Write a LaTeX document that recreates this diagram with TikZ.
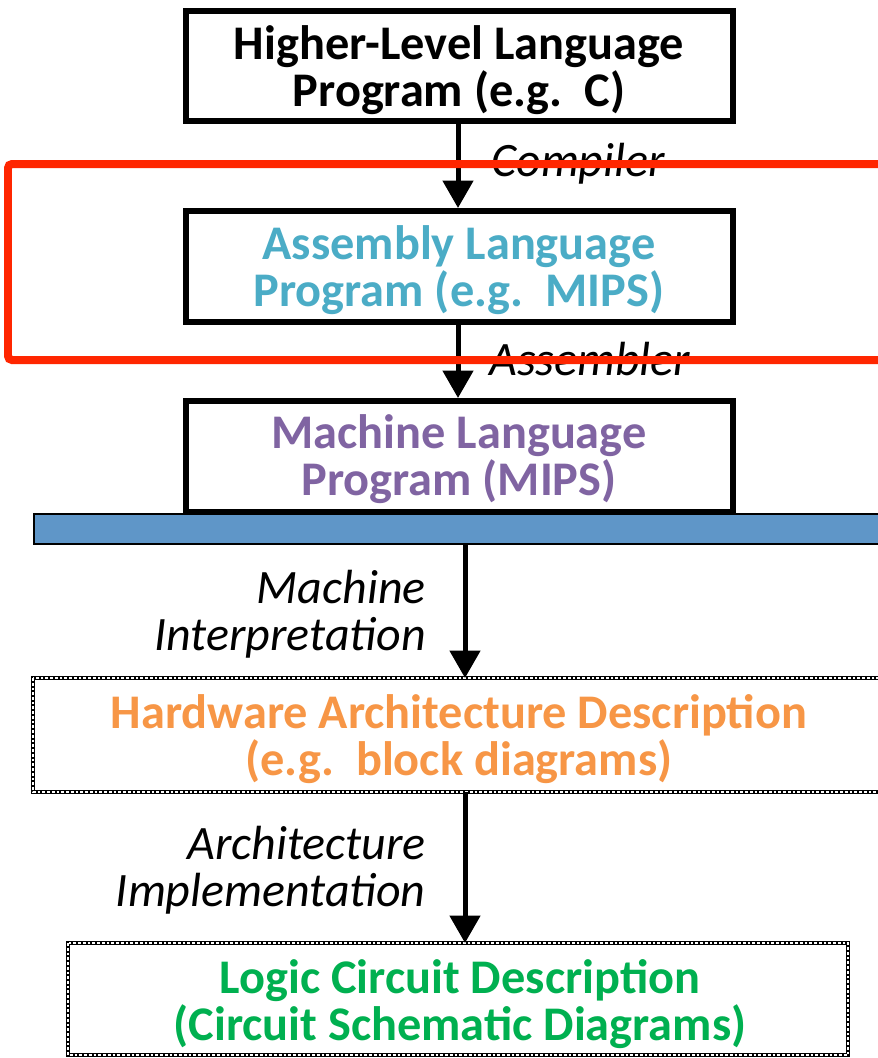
\documentclass[tikz,border=0pt]{standalone}
\usepackage{fontspec}
\setmainfont{Carlito}
\usetikzlibrary{arrows.meta}
\definecolor{asmcol}{RGB}{75,172,198}
\definecolor{maccol}{RGB}{128,100,162}
\definecolor{hwcol}{RGB}{247,150,70}
\definecolor{lgcol}{RGB}{0,176,80}
\definecolor{barcol}{RGB}{95,150,200}
\definecolor{redcol}{RGB}{255,38,0}
\tikzset{
  x=0.02cm, y=-0.02cm,
  solidbox/.style={draw=black, line width=0.12cm, fill=white, minimum width=10.94cm, minimum height=2.22cm, inner sep=0pt},
  chainline/.style={draw=black, line width=0.09cm},
  chainwhite/.style={draw=white, line width=0.035cm, dash pattern=on 0.055cm off 0.04cm},
  boxtext/.style={font=\fontsize{27.5pt}{26.8pt}\selectfont\bfseries, align=center, inner sep=0pt},
  lbl/.style={font=\fontsize{27.3pt}{26.8pt}\selectfont\itshape, inner sep=0pt},
  arr/.style={line width=0.1cm, -{Triangle[width=0.6cm,length=0.55cm]}},
}
\begin{document}
\begin{tikzpicture}
\useasboundingbox[fill=white] (0,0) rectangle (877,1058);
% solid boxes
\node[solidbox] (hl) at (459.5,66) {};
\node[boxtext] (hlt) at (459,70) {Higher-Level Language\\Program (e.g.\ \ C)};
\node[solidbox] (asm) at (459.5,266.5) {};
\node[boxtext, text=asmcol] (asmt) at (459,270) {Assembly Language\\Program (e.g.\ \ MIPS)};
\node[solidbox] (mac) at (459.5,456.5) {};
\node[boxtext, text=maccol] (mact) at (459,459) {Machine Language\\Program (MIPS)};
% blue bar
\draw[fill=barcol, draw=black, line width=0.055cm] (34,514) rectangle (900,544);
\coordinate (barb) at (465,545);
% chain boxes
\coordinate (hwtl) at (33,678);
\coordinate (hwbr) at (900,792);
\draw[chainline] (hwtl) rectangle (hwbr);
\draw[chainwhite] (hwtl) rectangle (hwbr);
\node[boxtext, text=hwcol] (hw) at (459,739) {Hardware Architecture Description\\(e.g.\ \ block diagrams)};
\coordinate (hwtop) at (465,678);
\coordinate (hwbot) at (465,792);
\coordinate (lgtl) at (68,943);
\coordinate (lgbr) at (848,1055);
\draw[chainline] (lgtl) rectangle (lgbr);
\draw[chainwhite] (lgtl) rectangle (lgbr);
\node[boxtext, text=lgcol] (lg) at (460,1004) {Logic Circuit Description\\(Circuit Schematic Diagrams)};
\coordinate (lgtop) at (465,943);
% arrows
\draw[arr] (hl.south -| 458,0) -- (asm.north -| 458,0);
\draw[arr] (asm.south -| 458,0) -- (mac.north -| 458,0);
\draw[arr] (barb) -- (hwtop);
\draw[arr] (hwbot) -- (lgtop);
% labels
\node[lbl, anchor=west] (comp) at (491,164) {Compiler};
\node[lbl, anchor=west] (asmb) at (489,359) {Assembler};
\node[lbl, anchor=east, align=right] (mi) at (426,614) {Machine\\Interpretation};
\node[lbl, anchor=east, align=right] (ai) at (426,870) {Architecture\\Implementation};
% red frame
\draw[redcol, line width=0.16cm, rounded corners=0.08cm] (930,164) -- (8,164) -- (8,360) -- (930,360);
\end{tikzpicture}
\end{document}
